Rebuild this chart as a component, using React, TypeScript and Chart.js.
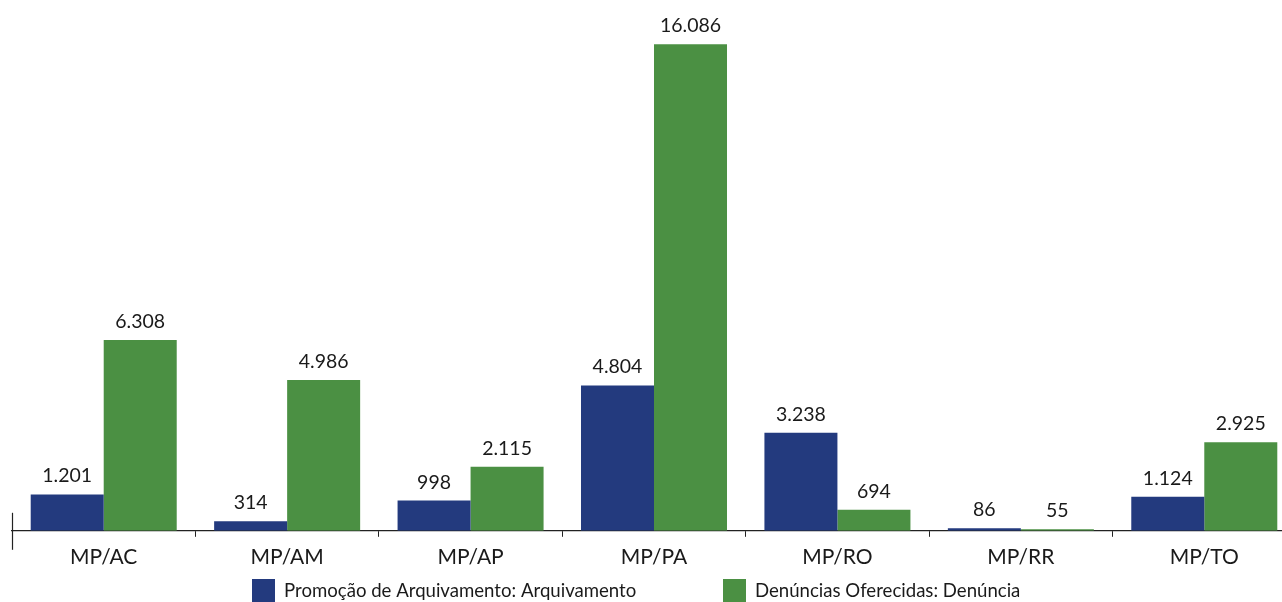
import React, { useEffect, useRef } from "react";
import { Chart, registerables } from "chart.js";

Chart.register(...registerables);

const categories = ["MP/AC", "MP/AM", "MP/AP", "MP/PA", "MP/RO", "MP/RR", "MP/TO"];
const arquivamento = [1201, 314, 998, 4804, 3238, 86, 1124];
const denuncias = [6308, 4986, 2115, 16086, 694, 55, 2925];
const seriesLabels = ["Promoção de Arquivamento: Arquivamento", "Denúncias Oferecidas: Denúncia"];
const seriesColors = ["#233a7e", "#4b9043"];

const FONT = "Lato, 'Open Sans', sans-serif";
const TEXT = "#1a1a1a";

const fmt = (n: number) => String(n).replace(/\B(?=(\d{3})+(?!\d))/g, ".");

const valueLabels = {
  id: "valueLabels",
  afterDatasetsDraw(chart: any) {
    const ctx = chart.ctx;
    ctx.save();
    ctx.font = `19.5px ${FONT}`;
    ctx.fillStyle = TEXT;
    ctx.textAlign = "center";
    ctx.textBaseline = "alphabetic";
    chart.data.datasets.forEach((ds: any, i: number) => {
      const meta = chart.getDatasetMeta(i);
      meta.data.forEach((bar: any, j: number) => {
        ctx.fillText(fmt(ds.data[j]), bar.x, bar.y - 12);
      });
    });
    ctx.restore();
  },
};

const axisExtras = {
  id: "axisExtras",
  afterDraw(chart: any) {
    const ctx = chart.ctx;
    const { left, bottom } = chart.chartArea;
    ctx.save();
    ctx.strokeStyle = "#222";
    ctx.lineWidth = 1.2;
    ctx.beginPath();
    ctx.moveTo(left + 0.5, bottom - 18);
    ctx.lineTo(left + 0.5, bottom + 19);
    ctx.stroke();
    // legend
    const boxX = [252, 723];
    const boxY = 579;
    ctx.font = `18.6px ${FONT}`;
    ctx.textAlign = "left";
    ctx.textBaseline = "middle";
    chart.data.datasets.forEach((ds: any, i: number) => {
      ctx.fillStyle = ds.backgroundColor;
      ctx.fillRect(boxX[i], boxY, 23, 23);
      ctx.fillStyle = TEXT;
      ctx.fillText(ds.label, boxX[i] + 32, boxY + 12);
    });
    ctx.restore();
  },
};

export default function App() {
  const ref = useRef<HTMLCanvasElement>(null);
  useEffect(() => {
    if (!ref.current) return;
    const chart = new Chart(ref.current, {
      type: "bar",
      data: {
        labels: categories,
        datasets: [
          { label: seriesLabels[0], data: arquivamento, backgroundColor: seriesColors[0] },
          { label: seriesLabels[1], data: denuncias, backgroundColor: seriesColors[1] },
        ],
      },
      options: {
        animation: false,
        responsive: false,
        maintainAspectRatio: false,
        layout: { padding: { left: 12, right: 4, top: 0, bottom: 24 } },
        datasets: { bar: { categoryPercentage: 0.796, barPercentage: 1 } },
        plugins: { legend: { display: false }, tooltip: { enabled: false } },
        scales: {
          x: {
            grid: { display: true, drawOnChartArea: false, drawTicks: true, tickLength: 6, color: "#222", offset: true },
            border: { display: true, color: "#222", width: 1.2 },
            ticks: { color: TEXT, font: { family: FONT, size: 21 }, padding: 8 },
          },
          y: { display: false, min: 0, max: 17546 },
        },
      },
      plugins: [valueLabels, axisExtras],
    });
    return () => chart.destroy();
  }, []);
  return (
    <div style={{ position: "absolute", left: 0, top: 0, width: 1282, height: 602, overflow: "hidden", background: "#fff" }}>
      <canvas ref={ref} width={1300} height={602} style={{ display: "block", width: 1300, height: 602 }} />
    </div>
  );
}
